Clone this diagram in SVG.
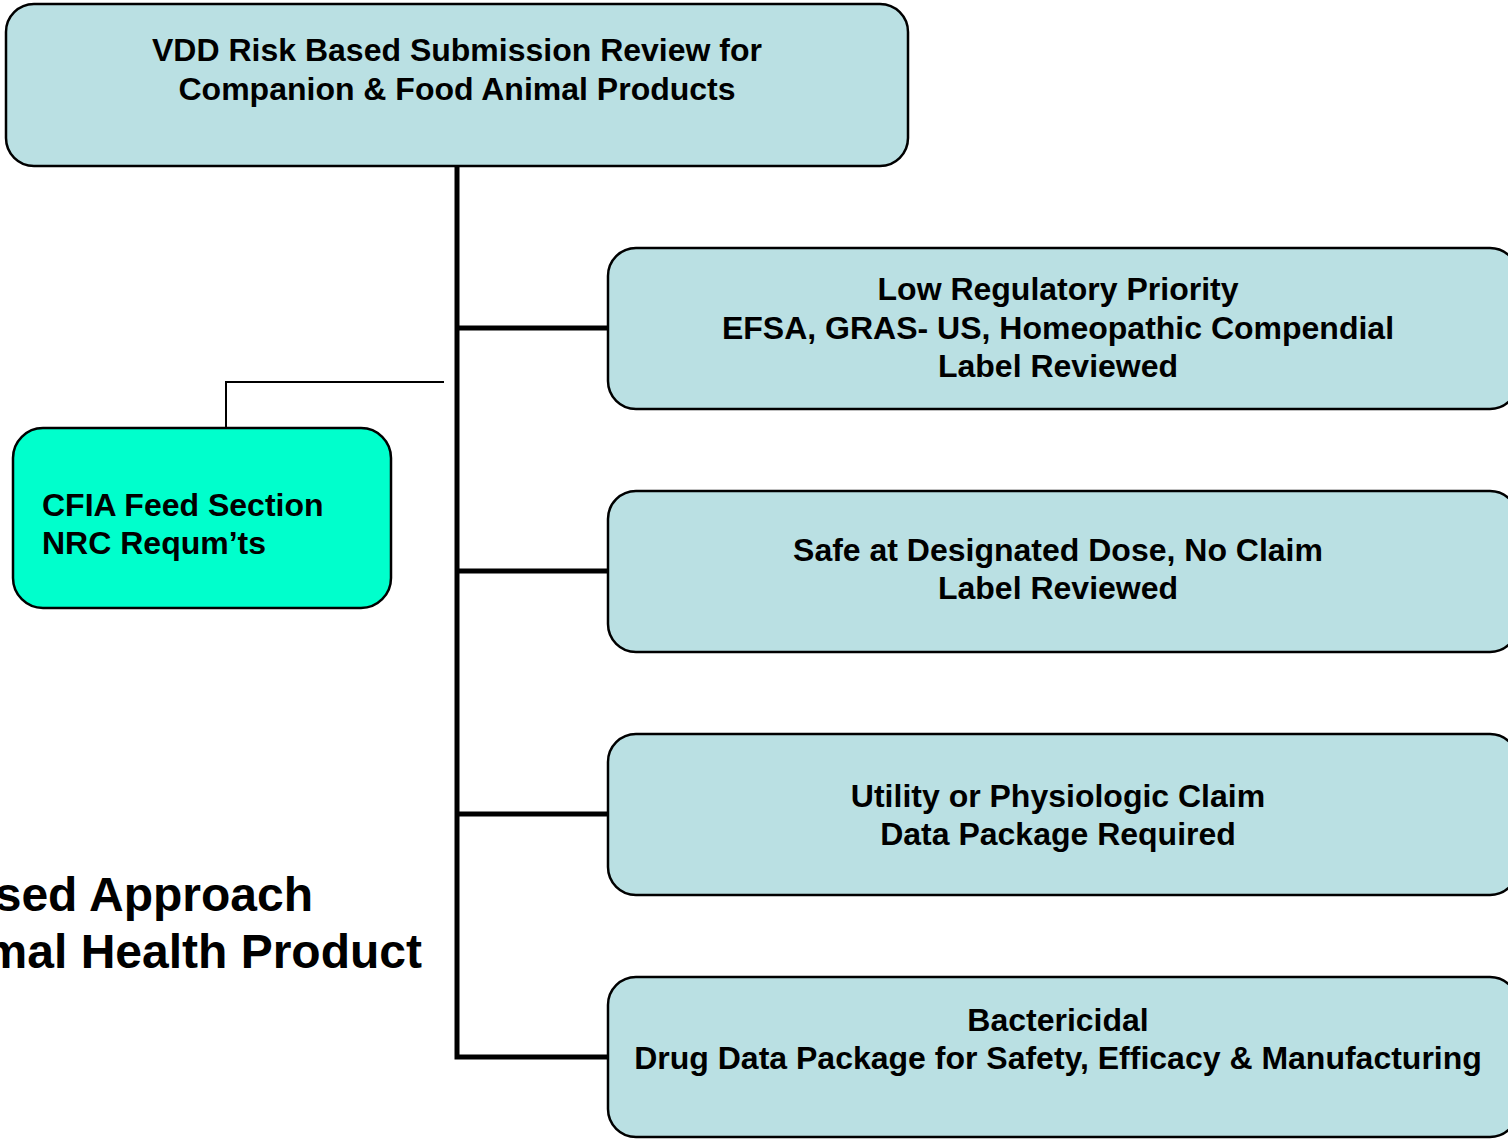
<svg xmlns="http://www.w3.org/2000/svg" width="1508" height="1139" viewBox="0 0 1508 1139">
<style>
.box{fill:#BAE0E3;stroke:#000;stroke-width:2.5}
.cfia{fill:#00FFCC;stroke:#000;stroke-width:2.5}
.t{font-family:"Liberation Sans",Arial,sans-serif;font-weight:bold;font-size:32px;fill:#000;text-anchor:middle}
.tl{font-family:"Liberation Sans",Arial,sans-serif;font-weight:bold;font-size:32px;fill:#000}
.big{font-family:"Liberation Sans",Arial,sans-serif;font-weight:bold;font-size:48px;fill:#000;text-anchor:end}
.trunk{stroke:#000;stroke-width:5;fill:none}
.thin{stroke:#000;stroke-width:2;fill:none}
</style>
<rect width="1508" height="1139" fill="#fff"/>
<g id="connectors">
<path class="trunk" d="M457,166 V1057 H608 M457,328 H608 M457,571 H608 M457,814 H608"/>
<path class="thin" d="M226,428 V382 H444"/>
</g>
<g id="title-text">
<text class="big" x="313" y="911">sed Approach</text>
<text class="big" x="422" y="968">mal Health Product</text>
</g>
<g id="top">
<rect class="box" x="6" y="4" width="902" height="162" rx="28"/>
<text class="t" x="457" y="61">VDD Risk Based Submission Review for</text>
<text class="t" x="457" y="100">Companion &amp; Food Animal Products</text>
</g>
<g id="cfia">
<rect class="cfia" x="13" y="428" width="378" height="180" rx="30"/>
<text class="tl" x="42" y="516">CFIA Feed Section</text>
<text class="tl" x="42" y="554">NRC Requm’ts</text>
</g>
<g id="low">
<rect class="box" x="608" y="248" width="910" height="161" rx="28"/>
<text class="t" x="1058" y="300">Low Regulatory Priority</text>
<text class="t" x="1058" y="339">EFSA, GRAS- US, Homeopathic Compendial</text>
<text class="t" x="1058" y="377">Label Reviewed</text>
</g>
<g id="safe">
<rect class="box" x="608" y="491" width="910" height="161" rx="28"/>
<text class="t" x="1058" y="561">Safe at Designated Dose, No Claim</text>
<text class="t" x="1058" y="599">Label Reviewed</text>
</g>
<g id="utility">
<rect class="box" x="608" y="734" width="910" height="161" rx="28"/>
<text class="t" x="1058" y="807">Utility or Physiologic Claim</text>
<text class="t" x="1058" y="845">Data Package Required</text>
</g>
<g id="bactericidal">
<rect class="box" x="608" y="977" width="910" height="160" rx="28"/>
<text class="t" x="1058" y="1031">Bactericidal</text>
<text class="t" x="1058" y="1069">Drug Data Package for Safety, Efficacy &amp; Manufacturing</text>
</g>
</svg>
